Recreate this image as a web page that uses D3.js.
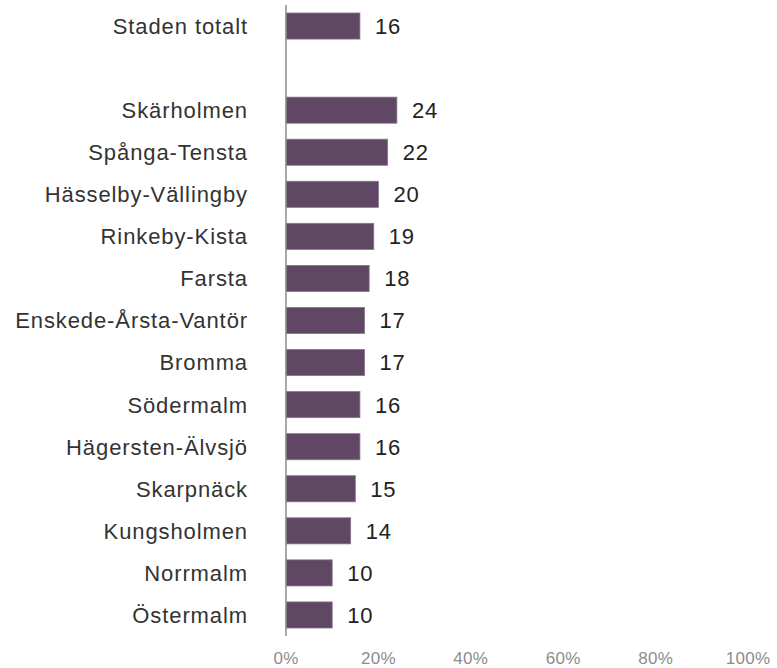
<!DOCTYPE html>
<html>
<head>
	<meta charset="utf-8">
	<title>Bar Chart</title>
	<script src="https://d3js.org/d3.v7.min.js" charset="utf-8"></script>
	<style>
		body { margin: 0; background: #fff; }
		svg text { font-family: "Liberation Sans", Arial, sans-serif; }
	</style>
</head>
<body>
	<svg width="777" height="668"></svg>
	<script>
		// blank "" category leaves the gap after the city total
		var categories = ['Staden totalt', '', 'Skärholmen', 'Spånga-Tensta', 'Hässelby-Vällingby', 'Rinkeby-Kista',
			'Farsta', 'Enskede-Årsta-Vantör', 'Bromma', 'Södermalm', 'Hägersten-Älvsjö', 'Skarpnäck',
			'Kungsholmen', 'Norrmalm', 'Östermalm'];
		var values = [16, null, 24, 22, 20, 19, 18, 17, 17, 16, 16, 15, 14, 10, 10];
		var ticks = [0, 20, 40, 60, 80, 100];

		var svg = d3.select('svg');

		const xScale = d3.scaleLinear()
			.domain([0, 100])
			.range([286, 748]);

		const yScale = d3.scaleBand()
			.domain(categories.map(function(d, i) { return i; }))
			.range([5, 636])
			.paddingInner(0.38)
			.paddingOuter(0.19);

		var rows = categories.map(function(c, i) { return {name: c, value: values[i], i: i}; });

		// bars
		svg.selectAll('rect.bar')
			.data(rows.filter(function(d) { return d.value != null; }))
			.enter()
			.append('rect')
			.attr('class', 'bar')
			.attr('x', xScale(0))
			.attr('y', (d) => yScale(d.i))
			.attr('width', (d) => xScale(d.value) - xScale(0))
			.attr('height', yScale.bandwidth())
			.style('fill', '#604763')
			.style('stroke', '#8a7390')
			.style('stroke-width', 0.8);

		// value labels
		svg.selectAll('text.val')
			.data(rows.filter(function(d) { return d.value != null; }))
			.enter()
			.append('text')
			.attr('class', 'val')
			.attr('x', (d) => xScale(d.value) + 15)
			.attr('y', (d) => yScale(d.i) + yScale.bandwidth() / 2)
			.attr('dy', '0.36em')
			.style('font-size', '22px')
			.style('letter-spacing', '0.8px')
			.style('fill', '#222')
			.text((d) => d.value);

		// category labels
		svg.selectAll('text.cat')
			.data(rows)
			.enter()
			.append('text')
			.attr('class', 'cat')
			.attr('x', 248)
			.attr('y', (d) => yScale(d.i) + yScale.bandwidth() / 2)
			.attr('dy', '0.36em')
			.attr('text-anchor', 'end')
			.style('font-size', '22px')
			.style('letter-spacing', '0.9px')
			.style('fill', '#333')
			.text((d) => d.name);

		// vertical axis line
		svg.append('line')
			.attr('x1', xScale(0)).attr('x2', xScale(0))
			.attr('y1', 5).attr('y2', 636)
			.style('stroke', '#8c8c8c')
			.style('stroke-width', 1.5);

		// x tick labels
		svg.selectAll('text.tick')
			.data(ticks)
			.enter()
			.append('text')
			.attr('class', 'tick')
			.attr('x', (d) => xScale(d))
			.attr('y', 664)
			.attr('text-anchor', 'middle')
			.style('font-size', '17px')
			.style('letter-spacing', '0.3px')
			.style('fill', '#8c8c8c')
			.text((d) => d + '%');
	</script>
</body>
</html>
